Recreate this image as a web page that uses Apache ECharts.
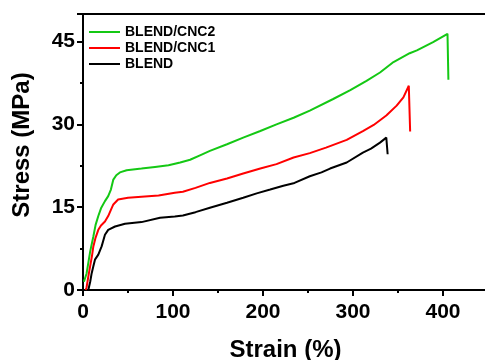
<!DOCTYPE html>
<html>
<head>
<meta charset="utf-8">
<script src="https://cdn.jsdelivr.net/npm/echarts@6/dist/echarts.min.js"></script>
<style>
  html, body { margin: 0; padding: 0; background: #fff; }
  #chart { width: 485px; height: 360px; }
</style>
</head>
<body>
<div id="chart"></div>
<script>
// values
const cnc2Strain = [1, 2.2, 4, 5.9, 8, 11.5, 14, 17, 20, 24.4, 28, 31, 33.7, 37, 41, 48.5, 65, 80, 95, 108, 119, 130, 141, 160, 178, 197, 215, 234, 252, 278, 297, 315, 330, 345, 363, 371, 389, 405, 406];
const cnc2Stress = [1.5, 1.8, 3, 4.9, 7, 9.7, 11.8, 13.4, 14.8, 16.1, 17, 18.2, 20, 20.8, 21.3, 21.7, 22, 22.3, 22.6, 23.1, 23.6, 24.4, 25.2, 26.4, 27.6, 28.8, 30, 31.2, 32.5, 34.6, 36.2, 37.9, 39.4, 41.3, 42.9, 43.4, 44.9, 46.4, 38.1];

const cnc1Strain = [3, 4, 6, 7.8, 10, 11.5, 14, 17, 20, 24.4, 28, 31, 33.7, 39, 50, 65, 84, 102, 111, 125, 141, 160, 178, 197, 215, 234, 252, 270, 293, 311, 323, 337, 348.5, 356, 362, 363.5];
const cnc1Stress = [0, 0.5, 2.5, 4.2, 6.2, 7.9, 9.5, 10.9, 11.7, 12.4, 13.4, 14.5, 15.5, 16.4, 16.7, 16.9, 17.1, 17.6, 17.8, 18.5, 19.4, 20.2, 21.1, 22, 22.8, 24, 24.8, 25.8, 27.2, 28.8, 29.9, 31.6, 33.4, 34.9, 37, 28.7];

const blendStrain = [5.9, 8, 9.6, 11.5, 13.3, 17, 20.7, 24.4, 28, 35.6, 46.7, 65, 85.6, 102, 111, 125, 141, 160, 178, 193, 208, 222.6, 235, 252, 265, 274.5, 293, 311, 320, 330, 337, 338.5];
const blendStress = [0, 1.5, 3, 4.3, 5.5, 6.4, 7.9, 10, 10.9, 11.5, 12, 12.3, 13.1, 13.3, 13.5, 14.1, 14.9, 15.8, 16.7, 17.5, 18.2, 18.9, 19.4, 20.6, 21.3, 22, 23.1, 24.9, 25.6, 26.7, 27.6, 24.6];

const seriesNames = ['BLEND/CNC2', 'BLEND/CNC1', 'BLEND'];
const seriesColors = ['#14c814', '#ff0000', '#000000'];

const pairs = (xs, ys) => xs.map((x, i) => [x, ys[i]]);

const font = 'Liberation Sans, Arial, sans-serif';
const chart = echarts.init(document.getElementById('chart'));

const axisCommon = {
  axisLine: { show: true, lineStyle: { color: '#000', width: 2 } },
  axisTick: { show: true, inside: false, length: 6, lineStyle: { color: '#000', width: 2 } },
  minorTick: { show: true, splitNumber: 2, length: 3, lineStyle: { color: '#000', width: 2 } },
  splitLine: { show: false },
  axisLabel: { color: '#000', fontSize: 21, fontWeight: 'bold', fontFamily: font, showMaxLabel: false },
  nameTextStyle: { color: '#000', fontSize: 24, fontWeight: 'bold', fontFamily: font },
  nameLocation: 'middle'
};

chart.setOption({
  animation: false,
  backgroundColor: '#fff',
  grid: {
    left: 83, top: 14, right: -3, bottom: 70,
    outerBoundsMode: 'none',
    containLabel: false
  },
  legend: {
    orient: 'vertical',
    left: 89,
    top: 25,
    padding: 0,
    icon: 'rect',
    itemWidth: 31,
    itemHeight: 2,
    itemGap: 2,
    data: seriesNames,
    textStyle: { color: '#000', fontSize: 14, fontWeight: 'bold', fontFamily: font }
  },
  xAxis: [
    Object.assign({}, axisCommon, {
      type: 'value',
      min: 0, max: 450, interval: 100,
      name: 'Strain (%)',
      nameGap: 48,
      axisLabel: Object.assign({}, axisCommon.axisLabel, { margin: 12 })
    }),
    {
      type: 'value', position: 'top',
      min: 0, max: 450,
      axisLine: { show: true, lineStyle: { color: '#000', width: 2 } },
      axisTick: { show: false }, axisLabel: { show: false }, splitLine: { show: false }
    }
  ],
  yAxis: Object.assign({}, axisCommon, {
    type: 'value',
    min: 0, max: 50, interval: 15,
    name: 'Stress (MPa)',
    nameGap: 49,
    nameTextStyle: Object.assign({}, axisCommon.nameTextStyle, { padding: [0, 0, 0, 14] }),
    axisLabel: Object.assign({}, axisCommon.axisLabel, { margin: 8 })
  }),
  series: [
    { data: pairs(cnc2Strain, cnc2Stress) },
    { data: pairs(cnc1Strain, cnc1Stress) },
    { data: pairs(blendStrain, blendStress) }
  ].map((s, i) => ({
    name: seriesNames[i],
    type: 'line',
    data: s.data,
    showSymbol: false,
    symbol: 'none',
    color: seriesColors[i],
    lineStyle: { width: 2, color: seriesColors[i] }
  }))
});
</script>
</body>
</html>
